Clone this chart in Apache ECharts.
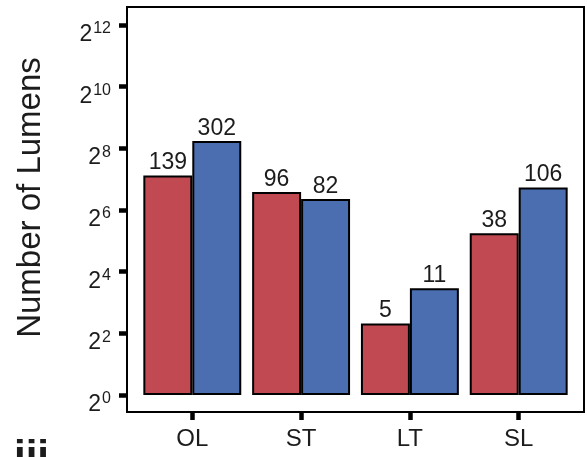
<!DOCTYPE html>
<html>
<head>
<meta charset="utf-8">
<script src="https://cdn.jsdelivr.net/npm/echarts@6/dist/echarts.min.js"></script>
<style>
html,body{margin:0;padding:0;background:#fff;}
#chart{width:587px;height:457px;}
</style>
</head>
<body>
<div id="chart"></div>
<script>
const categories = ['OL', 'ST', 'LT', 'SL'];
const redValues = [139, 96, 5, 38];
const blueValues = [302, 82, 11, 106];
const yMin = 1;      // 2^0
const yMax = 4096;   // 2^12
const yTitle = 'Number of Lumens';
const panelTag = 'iii';

const FONT = 'Liberation Sans, Arial, Helvetica, sans-serif';
const TXT = '#1c1c1c';

const chart = echarts.init(document.getElementById('chart'), null, {renderer: 'canvas'});

const option = {
  backgroundColor: '#ffffff',
  animation: false,
  textStyle: {fontFamily: FONT},
  grid: [
    {left: 137.9, right: 13.9, top: 25, bottom: 62, containLabel: false},
    {left: 127, right: 3, top: 7, bottom: 45, show: true, borderColor: '#000', borderWidth: 2, backgroundColor: 'transparent', z: 10}
  ],
  xAxis: [
    {
      type: 'category', gridIndex: 0, data: categories, offset: 17,
      axisLine: {show: false},
      axisTick: {show: true, alignWithLabel: true, length: 8, lineStyle: {color: '#000', width: 4.5}},
      axisLabel: {fontSize: 24, color: TXT, margin: 15, fontFamily: FONT},
      splitLine: {show: false}
    },
    {type: 'value', gridIndex: 1, show: false, min: 0, max: 1}
  ],
  yAxis: [
    {
      type: 'log', logBase: 2, gridIndex: 0, min: yMin, max: yMax, interval: 2, offset: 10.9,
      axisLine: {show: false},
      axisTick: {show: true, length: 8, lineStyle: {color: '#000', width: 4.5}},
      splitLine: {show: false},
      axisLabel: {
        margin: 16,
        fontFamily: FONT,
        padding: [17, 0, 0, 0],
        formatter: function (v) {
          return '{b|2}{s|' + Math.round(Math.log2(v)) + '}';
        },
        rich: {
          b: {fontSize: 23, color: TXT, fontFamily: FONT, verticalAlign: 'bottom', lineHeight: 25},
          s: {fontSize: 16, color: TXT, fontFamily: FONT, verticalAlign: 'top', lineHeight: 25, padding: [0, 0, 0, 1]}
        }
      }
    },
    {type: 'value', gridIndex: 1, show: false, min: 0, max: 1}
  ],
  series: [
    {
      type: 'bar', xAxisIndex: 0, yAxisIndex: 0, data: redValues,
      barGap: '0%', barCategoryGap: '10%',
      itemStyle: {color: '#C14A52', borderColor: '#000', borderWidth: 2},
      label: {show: true, position: 'top', distance: 1, fontSize: 23, color: TXT, fontFamily: FONT}
    },
    {
      type: 'bar', xAxisIndex: 0, yAxisIndex: 0, data: blueValues,
      barGap: '0%', barCategoryGap: '10%',
      itemStyle: {color: '#4A6EB0', borderColor: '#000', borderWidth: 2},
      label: {show: true, position: 'top', distance: 1, fontSize: 23, color: TXT, fontFamily: FONT}
    }
  ],
  graphic: [
    {
      type: 'text', x: 31, y: 197.5, rotation: Math.PI / 2,
      style: {text: yTitle, fontSize: 33, fill: TXT, fontFamily: FONT, align: 'center', verticalAlign: 'middle'}
    },
    {
      type: 'text', x: 14, y: 437,
      style: {text: panelTag, fontSize: 42, fontWeight: 'bold', fill: TXT, fontFamily: FONT, align: 'left', verticalAlign: 'top'}
    }
  ]
};
chart.setOption(option);
</script>
</body>
</html>
